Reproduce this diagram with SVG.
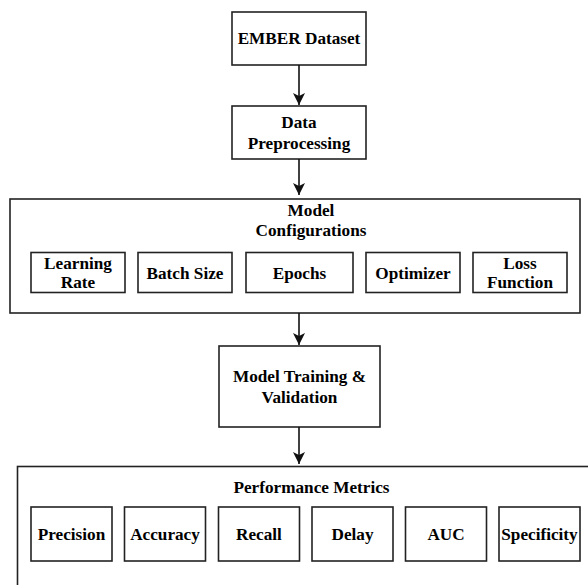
<svg xmlns="http://www.w3.org/2000/svg" width="588" height="585" viewBox="0 0 588 585">
<style>
  .box{fill:#fff;stroke:#222;stroke-width:1.6}
  .t{font-family:'Liberation Serif','Times New Roman',serif;font-weight:700;font-size:17.2px;fill:#000;text-anchor:middle}
  .c{stroke:#111;stroke-width:1.6;fill:none}
</style>
<defs>
  <marker id="ah" markerUnits="userSpaceOnUse" markerWidth="12" markerHeight="12" viewBox="0 0 12 12" refX="12" refY="6" orient="auto">
    <path d="M12,6 L0,0 L3,6 L0,12 Z" fill="#111"/>
  </marker>
</defs>
<rect width="588" height="585" fill="#fff"/>
<g id="ember">
  <rect class="box" x="232" y="12" width="134" height="53"/>
  <text class="t" x="299" y="44">EMBER Dataset</text>
</g>
<g id="preprocessing">
  <rect class="box" x="232" y="106" width="134" height="53"/>
  <text class="t" x="299" y="128">Data</text>
  <text class="t" x="299" y="149">Preprocessing</text>
</g>
<g id="config">
  <rect class="box" x="10" y="199" width="570" height="114"/>
  <text class="t" x="311" y="216">Model</text>
  <text class="t" x="311" y="236">Configurations</text>
</g>
<g id="learning-rate">
  <rect class="box" x="31" y="252.5" width="94" height="40"/>
  <text class="t" x="78" y="268.5">Learning</text>
  <text class="t" x="78" y="288">Rate</text>
</g>
<g id="batch-size">
  <rect class="box" x="138" y="252.5" width="94" height="40"/>
  <text class="t" x="185" y="279">Batch Size</text>
</g>
<g id="epochs">
  <rect class="box" x="246" y="252.5" width="107" height="40"/>
  <text class="t" x="299.5" y="279">Epochs</text>
</g>
<g id="optimizer">
  <rect class="box" x="366" y="252.5" width="94" height="40"/>
  <text class="t" x="413" y="279">Optimizer</text>
</g>
<g id="loss-function">
  <rect class="box" x="473" y="252.5" width="94" height="40"/>
  <text class="t" x="520" y="268.5">Loss</text>
  <text class="t" x="520" y="288">Function</text>
</g>
<g id="training">
  <rect class="box" x="219" y="346" width="161" height="81"/>
  <text class="t" x="299.5" y="381.5">Model Training &amp;</text>
  <text class="t" x="299.5" y="402.5">Validation</text>
</g>
<g id="metrics">
  <rect class="box" x="17.5" y="466.5" width="600" height="150"/>
  <text class="t" x="311.5" y="493">Performance Metrics</text>
</g>
<g id="precision">
  <rect class="box" x="31" y="507" width="81" height="54"/>
  <text class="t" x="71.5" y="539.5">Precision</text>
</g>
<g id="accuracy">
  <rect class="box" x="124.5" y="507" width="81" height="54"/>
  <text class="t" x="165" y="539.5">Accuracy</text>
</g>
<g id="recall">
  <rect class="box" x="218.5" y="507" width="81" height="54"/>
  <text class="t" x="259" y="539.5">Recall</text>
</g>
<g id="delay">
  <rect class="box" x="312" y="507" width="81" height="54"/>
  <text class="t" x="352.5" y="539.5">Delay</text>
</g>
<g id="auc">
  <rect class="box" x="405.5" y="507" width="81" height="54"/>
  <text class="t" x="446" y="539.5">AUC</text>
</g>
<g id="specificity">
  <rect class="box" x="499" y="507" width="81" height="54"/>
  <text class="t" x="539.5" y="539.5">Specificity</text>
</g>
<g id="connectors">
  <line class="c" x1="299" y1="65" x2="299" y2="105" marker-end="url(#ah)"/>
  <line class="c" x1="299" y1="159" x2="299" y2="195" marker-end="url(#ah)"/>
  <line class="c" x1="299" y1="313" x2="299" y2="345" marker-end="url(#ah)"/>
  <line class="c" x1="299" y1="427" x2="299" y2="464" marker-end="url(#ah)"/>
</g>
</svg>
